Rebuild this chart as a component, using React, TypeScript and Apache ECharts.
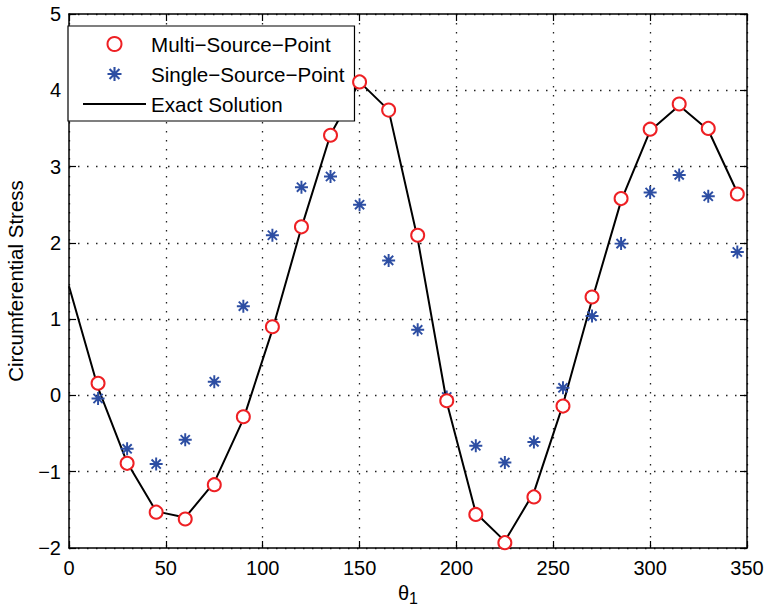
import React, { useEffect, useRef } from 'react';
import * as echarts from 'echarts';

// ---- data ----
const angles = [15, 30, 45, 60, 75, 90, 105, 120, 135, 150, 165, 180, 195, 210, 225, 240, 255, 270, 285, 300, 315, 330, 345];
const multiSource = [0.16, -0.89, -1.53, -1.62, -1.17, -0.28, 0.9, 2.21, 3.41, 4.11, 3.74, 2.1, -0.07, -1.56, -1.93, -1.33, -0.14, 1.29, 2.58, 3.49, 3.82, 3.5, 2.64];
const singleSource = [-0.04, -0.7, -0.9, -0.58, 0.18, 1.17, 2.1, 2.73, 2.87, 2.5, 1.77, 0.86, -0.02, -0.66, -0.88, -0.61, 0.1, 1.04, 1.99, 2.66, 2.89, 2.61, 1.88];
const exactAngles = [0, 15, 30, 45, 60, 75, 90, 105, 120, 135, 150, 165, 180, 195, 210, 225, 240, 255, 270, 285, 300, 315, 330, 345];
const exactSolution = [1.43, 0.1, -0.88, -1.52, -1.6, -1.14, -0.31, 0.86, 2.2, 3.42, 4.11, 3.74, 2.05, -0.09, -1.54, -1.91, -1.27, -0.12, 1.25, 2.55, 3.47, 3.8, 3.48, 2.66];
const xRange = { min: 0, max: 350, interval: 50 };
const yRange = { min: -2, max: 5, interval: 1 };
const seriesNames = ['Multi\u2212Source\u2212Point', 'Single\u2212Source\u2212Point', 'Exact Solution'];
const yTitle = 'Circumferential Stress';

const FONT = "'Liberation Sans', Arial, Helvetica, sans-serif";
const STAR =
  'path://M-1,-0.15L1,-0.15L1,0.15L-1,0.15Z M-0.15,-1L0.15,-1L0.15,1L-0.15,1Z M-0.601,-0.813L0.813,0.601L0.601,0.813L-0.813,-0.601Z M-0.813,0.601L0.601,-0.813L0.813,-0.601L-0.601,0.813Z';

const minus = (v: number) => String(v).replace('-', '\u2212');

export default function App() {
  const ref = useRef<HTMLDivElement>(null);
  useEffect(() => {
    document.body.style.margin = '0';
    const chart = echarts.init(ref.current!, undefined, { renderer: 'svg' });
    const axisLine = { show: true, onZero: false, lineStyle: { color: '#000', width: 1.5 } };
    const tick = { show: true, inside: true, length: 7, lineStyle: { color: '#000', width: 1.2 } };
    const grid = { show: true, lineStyle: { color: '#222', width: 1.3, type: [1.5, 7.5] as any } };
    const label = { color: '#000', fontSize: 20, fontFamily: FONT, formatter: minus };
    chart.setOption({
      animation: false,
      backgroundColor: '#fff',
      grid: { left: 69, right: 19, top: 14, bottom: 64, containLabel: false, outerBoundsMode: 'none' },
      xAxis: [
        {
          type: 'value', ...xRange, position: 'bottom',
          axisLine, axisTick: tick, splitLine: grid, axisLabel: { ...label, margin: 10 },
          name: '{a|\u03b8}{b|1}', nameLocation: 'middle', nameGap: 29,
          nameTextStyle: {
            rich: {
              a: { fontSize: 20, fontFamily: FONT, color: '#000' },
              b: { fontSize: 16, fontFamily: FONT, color: '#000', padding: [12, 0, 0, 0] },
            },
          },
        },
        {
          type: 'value', ...xRange, position: 'top',
          axisLine, axisTick: tick, splitLine: { show: false }, axisLabel: { show: false },
        },
      ],
      yAxis: [
        {
          type: 'value', ...yRange, position: 'left',
          axisLine, axisTick: tick, splitLine: grid, axisLabel: { ...label, margin: 8 },
          name: yTitle, nameLocation: 'middle', nameRotate: 90, nameGap: 43,
          nameTextStyle: { fontSize: 20.5, fontFamily: FONT, color: '#000' },
        },
        {
          type: 'value', ...yRange, position: 'right',
          axisLine, axisTick: tick, splitLine: { show: false }, axisLabel: { show: false },
        },
      ],
      legend: {
        left: 68, top: 26, orient: 'vertical',
        backgroundColor: '#fff', borderColor: '#000', borderWidth: 1.2, borderRadius: 0,
        padding: [7, 10, 6, 14],
        itemWidth: 63, itemHeight: 14, itemGap: 8,
        textStyle: { fontSize: 20.6, fontFamily: FONT, color: '#000', lineHeight: 22 },
        data: [
          { name: seriesNames[0] },
          { name: seriesNames[1] },
          { name: seriesNames[2], itemStyle: { opacity: 0 } },
        ],
      },
      series: [
        {
          name: seriesNames[2], type: 'line', symbol: 'none', z: 2,
          data: exactAngles.map((a, i) => [a, exactSolution[i]]),
          lineStyle: { color: '#000', width: 2 }, itemStyle: { color: '#000' },
        },
        {
          name: seriesNames[1], type: 'scatter', symbol: STAR, symbolSize: 13, symbolKeepAspect: true, z: 3,
          data: angles.map((a, i) => [a, singleSource[i]]),
          itemStyle: { color: '#2d4ea3', opacity: 1 },
        },
        {
          name: seriesNames[0], type: 'scatter', symbol: 'emptyCircle', symbolSize: 13, z: 4,
          data: angles.map((a, i) => [a, multiSource[i]]),
          itemStyle: { color: '#ee2024', borderColor: '#ee2024', borderWidth: 1.8, opacity: 1 },
        },
      ],
    });
    return () => chart.dispose();
  }, []);
  return <div ref={ref} style={{ width: 766, height: 612 }} />;
}
